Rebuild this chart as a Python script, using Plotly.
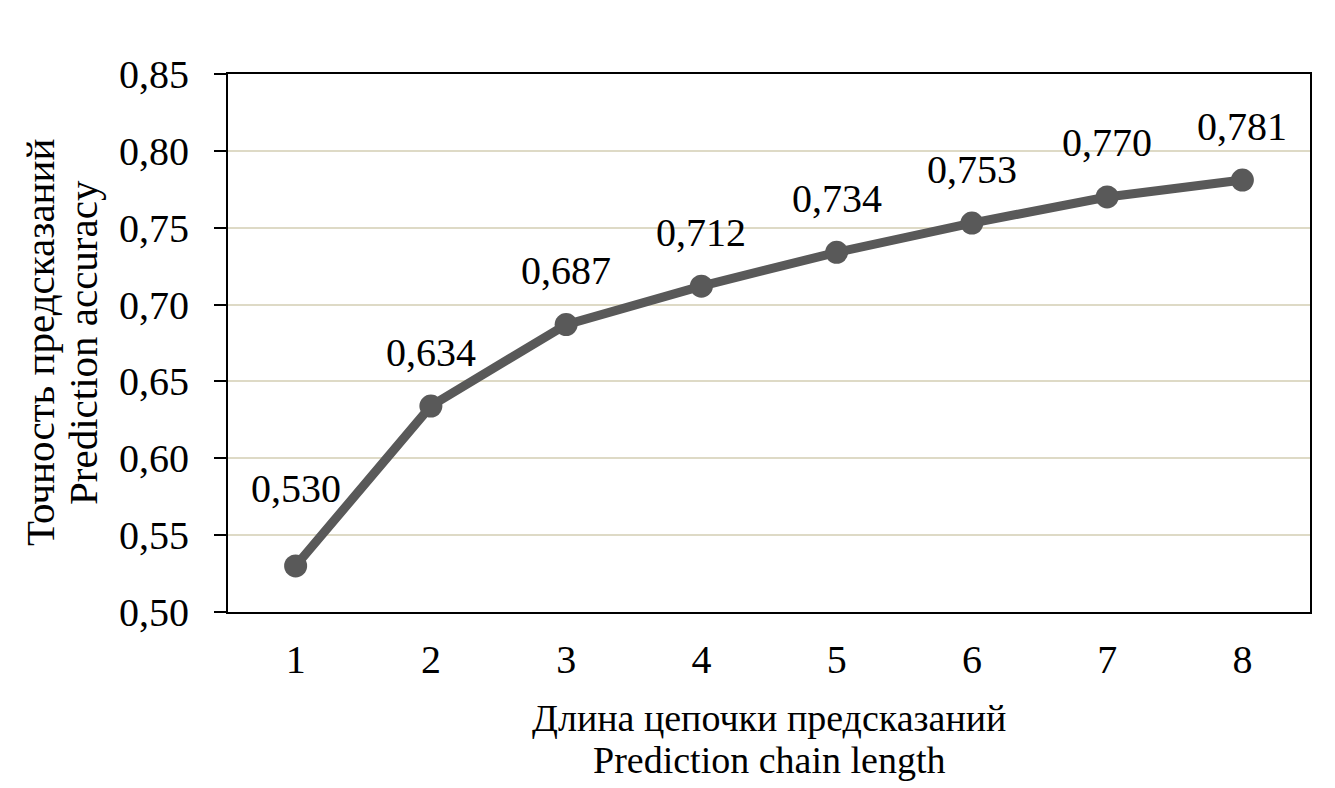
import plotly.graph_objects as go

# chain length vs accuracy
chain_length = ["1", "2", "3", "4", "5", "6", "7", "8"]
accuracy = [0.530, 0.634, 0.687, 0.712, 0.734, 0.753, 0.770, 0.781]
y_ticks = [0.50, 0.55, 0.60, 0.65, 0.70, 0.75, 0.80, 0.85]
y_title = ["Точность предсказаний", "Prediction accuracy"]
x_title = ["Длина цепочки предсказаний", "Prediction chain length"]

font_name = "Liberation Serif, Times New Roman, serif"
line_color = "#595959"

fig = go.Figure()
fig.add_trace(go.Scatter(
    x=chain_length, y=accuracy,
    mode="lines+markers",
    line=dict(color=line_color, width=9),
    marker=dict(color=line_color, size=23),
    hoverinfo="x+y",
))

# value labels above the points (first one sits a bit higher)
for i, v in enumerate(accuracy):
    fig.add_annotation(
        x=i, y=v, text=f"{v:.3f}".replace(".", ","),
        showarrow=False, yshift=77 if i == 0 else 54,
        font=dict(family=font_name, size=40, color="black"),
    )

# axis titles, one annotation per line for tighter spacing
for line, shift in zip(y_title, [-188, -145]):
    fig.add_annotation(
        xref="paper", yref="paper", x=0, y=0.5, xshift=shift,
        xanchor="center", yanchor="middle", textangle=-90, showarrow=False,
        text=line, font=dict(family=font_name, size=41, color="black"),
    )
for line, shift in zip(x_title, [-106, -148]):
    fig.add_annotation(
        xref="paper", yref="paper", x=0.5, y=0, yshift=shift,
        xanchor="center", yanchor="middle", showarrow=False,
        text=line, font=dict(family=font_name, size=38, color="black"),
    )

fig.update_layout(
    width=1327, height=780,
    margin=dict(l=220, r=25, t=66, b=176),
    paper_bgcolor="white", plot_bgcolor="white",
    showlegend=False,
    separators=", ",
    font=dict(family=font_name, size=40, color="black"),
)
fig.update_xaxes(
    type="category", range=[-0.5, 7.5], automargin=False,
    showline=True, linecolor="black", linewidth=2, mirror=True,
    showgrid=False, ticks="", ticklen=0, ticklabelstandoff=11,
    tickfont=dict(size=40),
)
fig.update_yaxes(
    range=[0.50, 0.85], tickvals=y_ticks, tickformat=".2f", automargin=False,
    showline=True, linecolor="black", linewidth=2, mirror=True,
    showgrid=True, gridcolor="#DEDAC6", gridwidth=2,
    ticks="outside", ticklen=12, tickcolor="black", tickwidth=2,
    ticklabelstandoff=17,
    tickfont=dict(size=40), zeroline=False,
)

fig.write_html("out.html")
